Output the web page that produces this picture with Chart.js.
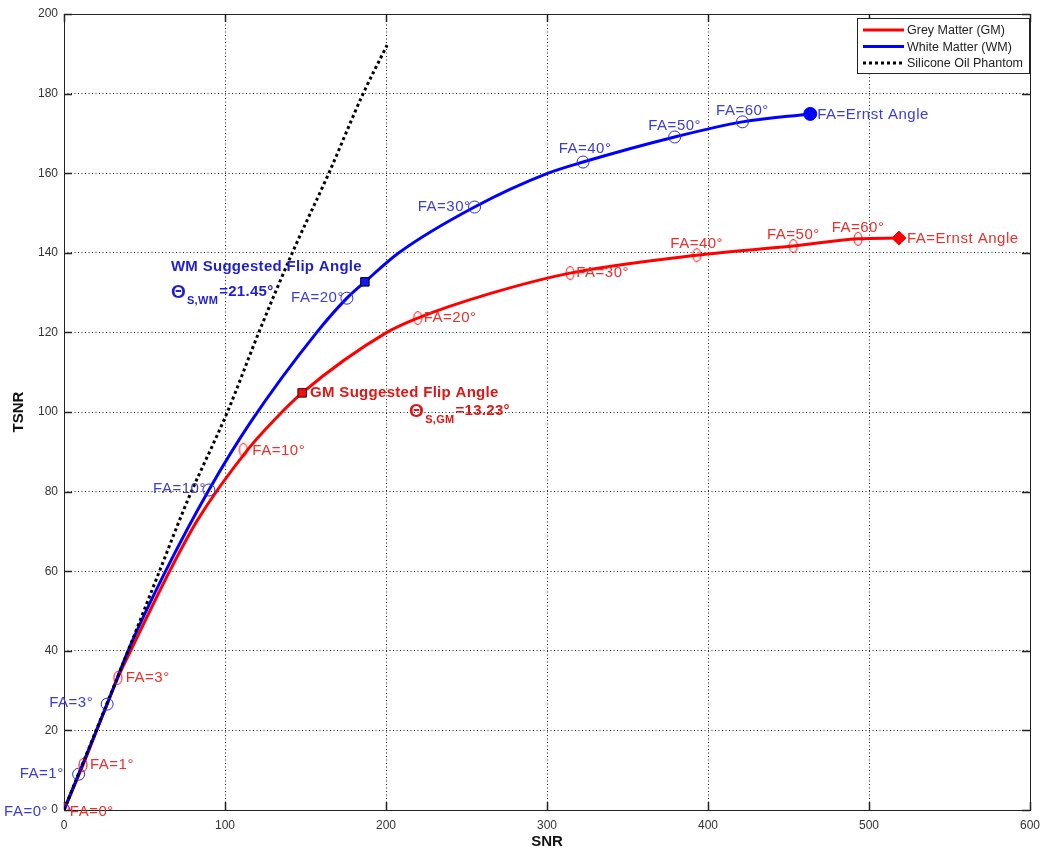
<!DOCTYPE html>
<html><head><meta charset="utf-8">
<script src="https://cdn.jsdelivr.net/npm/chart.js@4.4.0/dist/chart.umd.min.js"></script>
<style>html,body{margin:0;padding:0;background:#fff}#wrap{width:1050px;height:855px}</style>
</head><body><div id="wrap"><canvas id="c" width="1050" height="855"></canvas></div>
<script>
// ---------------- data ----------------
const xTickValues = [0, 100, 200, 300, 400, 500, 600];
const yTickValues = [0, 20, 40, 60, 80, 100, 120, 140, 160, 180, 200];

const gmSNR  = [0, 11.8, 33.4, 41.4, 65.6, 83, 114, 130.6, 147.9, 200.5, 219.7, 265, 314.4, 393, 453, 493.2, 518.6];
const gmTSNR = [0, 11.3, 33.2, 40, 60, 72.9, 90.5, 98, 104.8, 120, 123.6, 129.8, 134.9, 139.4, 141.7, 143.5, 143.7];

const wmSNR  = [0, 9.1, 26.8, 39.8, 63.1, 90, 116, 157, 175.7, 186.9, 208, 255, 300.7, 322.4, 379.3, 421.4, 463.5];
const wmTSNR = [0, 9.0, 26.6, 40, 60, 80.4, 97.5, 120, 128.6, 132.7, 140, 151.5, 160, 162.8, 169.1, 172.9, 174.9];

const oilSNR  = [0, 39.8, 59.3, 77, 101.5, 121, 141.8, 164.5, 185.8, 200.7];
const oilTSNR = [0, 40, 60, 78, 100, 120, 140, 160, 180, 192.2];

const gmMarkSNR  = [0.5, 11.8, 33.4, 111.4, 219.7, 314.4, 393, 453, 493.2];
const gmMarkTSNR = [0, 11.3, 33.2, 90.5, 123.6, 134.9, 139.4, 141.7, 143.5];
const wmMarkSNR  = [0, 9.1, 26.8, 90, 175.7, 255, 322.4, 379.3, 421.4];
const wmMarkTSNR = [0, 9.0, 26.6, 80.4, 128.6, 151.5, 162.8, 169.1, 172.9];
const markLabels = ['FA=0°', 'FA=1°', 'FA=3°', 'FA=10°', 'FA=20°', 'FA=30°', 'FA=40°', 'FA=50°', 'FA=60°'];

const gmErnst = {x: 518.6, y: 143.7};
const wmErnst = {x: 463.5, y: 174.9};
const ernstLabel = 'FA=Ernst Angle';
const gmSuggested = {x: 147.9, y: 104.8};
const wmSuggested = {x: 186.9, y: 132.7};
const gmSuggestedAngle = '13.23';
const wmSuggestedAngle = '21.45';

const seriesNames = ['Grey Matter (GM)', 'White Matter (WM)', 'Silicone Oil Phantom'];

// ---------------- styles ----------------
const RED = '#ff0000', BLUE = '#0000ff';
const RED_TXT = '#e8302c', BLUE_TXT = '#3c3cd8';
const FONT = '"Liberation Sans", Arial, sans-serif';
// label placement: [align, dx, dy] relative to the marker pixel
const wmLabelPos = [['r',-16,2],['r',-15,0],['r',-14,-1],['r',-3,-1],['r',-3,0],['r',-4,0],['c',2,-13],['c',0,-11],['c',0,-11]];
const gmLabelPos = [['l',5,2],['l',7,0],['l',8,0],['l',9,1],['l',6,0],['l',6,0],['c',0,-11],['c',0,-11],['c',0,-11]];

const ell = document.createElement('canvas');
ell.width = 12; ell.height = 16;
(function(){const g = ell.getContext('2d'); g.strokeStyle = RED; g.lineWidth = 1;
  g.beginPath(); g.ellipse(6, 8, 4, 6.5, 0, 0, Math.PI*2); g.stroke();})();

const zip = (xs, ys) => xs.map((x, i) => ({x, y: ys[i]}));

const decor = {
  id: 'decor',
  beforeDatasetsDraw(chart) {
    const {ctx, chartArea: a, scales: {x, y}} = chart;
    ctx.save();
    ctx.strokeStyle = '#222'; ctx.lineWidth = 1;
    ctx.strokeRect(a.left + 0.5, a.top + 0.5, a.right - a.left, a.bottom - a.top);
    ctx.lineWidth = 1.5;
    ctx.beginPath();
    xTickValues.forEach(v => { const px = Math.round(x.getPixelForValue(v)) + 0.5;
      ctx.moveTo(px, a.bottom); ctx.lineTo(px, a.bottom - 8);
      ctx.moveTo(px, a.top); ctx.lineTo(px, a.top + 8); });
    yTickValues.forEach(v => { const py = Math.round(y.getPixelForValue(v)) + 0.5;
      ctx.moveTo(a.left, py); ctx.lineTo(a.left + 8, py);
      ctx.moveTo(a.right, py); ctx.lineTo(a.right - 8, py); });
    ctx.stroke();
    ctx.restore();
  },
  afterDraw(chart) {
    const {ctx, scales: {x, y}} = chart;
    ctx.save();
    ctx.textBaseline = 'middle';
    ctx.font = '15px ' + FONT;
    ctx.letterSpacing = '0.5px';
    const put = (txt, px, py, pos, color) => {
      ctx.fillStyle = color;
      ctx.textAlign = pos[0] === 'r' ? 'right' : pos[0] === 'l' ? 'left' : 'center';
      ctx.fillText(txt, px + pos[1], py + pos[2]);
    };
    markLabels.forEach((t, i) => {
      put(t, x.getPixelForValue(wmMarkSNR[i]), y.getPixelForValue(wmMarkTSNR[i]), wmLabelPos[i], BLUE_TXT);
      put(t, x.getPixelForValue(gmMarkSNR[i]), y.getPixelForValue(gmMarkTSNR[i]), gmLabelPos[i], RED_TXT);
    });
    put(ernstLabel, x.getPixelForValue(wmErnst.x), y.getPixelForValue(wmErnst.y), ['l', 7, 1], BLUE_TXT);
    put(ernstLabel, x.getPixelForValue(gmErnst.x), y.getPixelForValue(gmErnst.y), ['l', 8, 1], RED_TXT);

    // suggested flip angle annotations
    ctx.letterSpacing = '0.3px';
    const theta = (x0, y0, sub, val, color) => {
      ctx.fillStyle = color; ctx.textAlign = 'left';
      ctx.font = 'bold 19px ' + FONT; ctx.fillText('Θ', x0, y0);
      let cx = x0 + ctx.measureText('Θ').width + 1;
      ctx.font = 'bold 11px ' + FONT; ctx.fillText(sub, cx, y0 + 8);
      cx += ctx.measureText(sub).width + 1;
      ctx.font = 'bold 15px ' + FONT; ctx.fillText('=' + val + '°', cx, y0 - 1);
    };
    const wx = x.getPixelForValue(wmSuggested.x), wy = y.getPixelForValue(wmSuggested.y);
    ctx.font = 'bold 15px ' + FONT; ctx.fillStyle = '#1f1fd0'; ctx.textAlign = 'left';
    ctx.fillText('WM Suggested Flip Angle', wx - 194, wy - 15);
    theta(wx - 194, wy + 11, 'S,WM', wmSuggestedAngle, '#1f1fd0');
    const gx = x.getPixelForValue(gmSuggested.x), gy = y.getPixelForValue(gmSuggested.y);
    ctx.font = 'bold 15px ' + FONT; ctx.fillStyle = '#e01515'; ctx.textAlign = 'left';
    ctx.fillText('GM Suggested Flip Angle', gx + 8, gy);
    theta(gx + 107, gy + 19, 'S,GM', gmSuggestedAngle, '#e01515');

    // legend box
    ctx.letterSpacing = '0px';
    const lx = 857, ly = 18, lw = 172, lh = 55;
    ctx.fillStyle = '#fff'; ctx.fillRect(lx, ly, lw, lh);
    ctx.strokeStyle = '#222'; ctx.lineWidth = 1; ctx.setLineDash([]);
    ctx.strokeRect(lx + 0.5, ly + 0.5, lw, lh);
    ctx.font = '12.5px ' + FONT; ctx.textAlign = 'left'; ctx.fillStyle = '#222';
    chart.data.datasets.slice(0, 3).forEach((ds, i) => {
      const yy = ly + 12 + i * 16.5;
      ctx.strokeStyle = ds.borderColor; ctx.lineWidth = ds.borderWidth;
      ctx.setLineDash(ds.borderDash || []);
      ctx.beginPath(); ctx.moveTo(lx + 6, yy); ctx.lineTo(lx + 47, yy); ctx.stroke();
      ctx.setLineDash([]);
      ctx.fillStyle = '#222';
      ctx.fillText(ds.label, lx + 50, yy + 1);
    });
    ctx.restore();
  }
};

const curve = (label, data, color, order, dash) => ({
  label, data, borderColor: color, backgroundColor: color, borderWidth: 3,
  borderDash: dash, showLine: true, pointRadius: 0, order,
  cubicInterpolationMode: 'monotone', fill: false
});

new Chart(document.getElementById('c'), {
  type: 'scatter',
  data: {
    datasets: [
      curve(seriesNames[0], zip(gmSNR, gmTSNR), RED, 4, undefined),
      curve(seriesNames[1], zip(wmSNR, wmTSNR), BLUE, 3, undefined),
      curve(seriesNames[2], zip(oilSNR, oilTSNR), '#000', 2, [3, 3]),
      {label: 'gm marks', data: zip(gmMarkSNR, gmMarkTSNR), pointStyle: ell, showLine: false, order: 0},
      {label: 'wm marks', data: zip(wmMarkSNR, wmMarkTSNR), pointStyle: 'circle', pointRadius: 6,
        borderColor: '#2a2ae0', backgroundColor: 'rgba(0,0,0,0)', borderWidth: 1, showLine: false, order: 0},
      {label: 'gm ernst', data: [gmErnst], pointStyle: 'rectRot', pointRadius: 7,
        backgroundColor: RED, borderColor: RED, borderWidth: 1, showLine: false, order: 0},
      {label: 'wm ernst', data: [wmErnst], pointStyle: 'circle', pointRadius: 6.5,
        backgroundColor: BLUE, borderColor: BLUE, borderWidth: 1, showLine: false, order: 0},
      {label: 'gm suggested', data: [gmSuggested], pointStyle: 'rect', pointRadius: 6,
        backgroundColor: '#ee1111', borderColor: '#400', borderWidth: 1, showLine: false, order: 0},
      {label: 'wm suggested', data: [wmSuggested], pointStyle: 'rect', pointRadius: 6,
        backgroundColor: '#1515ee', borderColor: '#002', borderWidth: 1, showLine: false, order: 0}
    ]
  },
  options: {
    responsive: false, animation: false, maintainAspectRatio: false,
    layout: {padding: {top: 14, right: 20, left: 0, bottom: 0}},
    plugins: {legend: {display: false}, tooltip: {enabled: false}},
    events: [],
    scales: {
      x: {
        type: 'linear', min: 0, max: 600,
        afterFit: s => { s.height = 45; },
        afterBuildTicks: s => { s.ticks = xTickValues.map(v => ({value: v})); },
        ticks: {color: '#333', font: {family: FONT, size: 12}, padding: 8},
        grid: {color: '#222', lineWidth: 1, drawTicks: false},
        border: {display: false, dash: [1, 2.5]},
        title: {display: true, text: 'SNR', color: '#111', font: {family: FONT, size: 15, weight: 'bold'}, padding: {top: 0, bottom: 4}}
      },
      y: {
        type: 'linear', min: 0, max: 200,
        afterFit: s => { s.width = 64; },
        afterBuildTicks: s => { s.ticks = yTickValues.map(v => ({value: v})); },
        ticks: {color: '#333', font: {family: FONT, size: 12}, padding: 6},
        grid: {color: '#222', lineWidth: 1, drawTicks: false},
        border: {display: false, dash: [1, 2.5]},
        title: {display: true, text: 'TSNR', color: '#111', font: {family: FONT, size: 15, weight: 'bold'}, padding: {top: 10, bottom: 0}}
      }
    }
  },
  plugins: [decor]
});
</script>
</body></html>
